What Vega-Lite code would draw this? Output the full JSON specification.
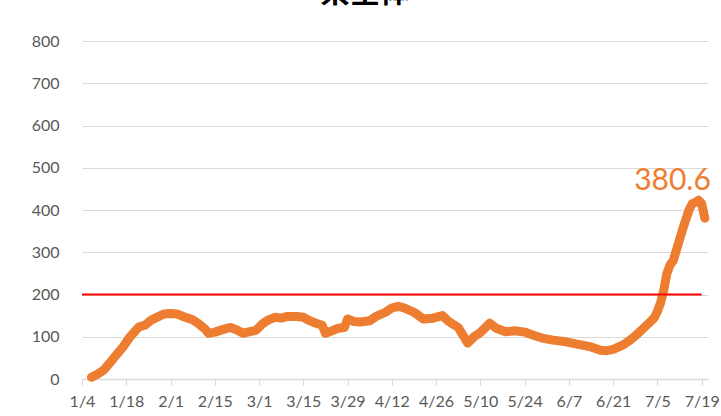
{
  "$schema": "https://vega.github.io/schema/vega-lite/v6.json",
  "width": 626,
  "height": 338,
  "autosize": {"type": "none"},
  "padding": {"left": 82, "top": 41, "right": 13, "bottom": 37},
  "background": "white",
  "config": {"view": {"stroke": null}, "font": "Lato"},
  "title": {
    "text": "県全体",
    "font": "Noto Sans CJK JP",
    "fontSize": 30,
    "fontWeight": "bold",
    "color": "#000000",
    "anchor": "middle",
    "baseline": "alphabetic",
    "offset": 1,
    "dx": -30
  },
  "datasets": {
    "series": [
      {"date": "2021-01-07", "value": 4},
      {"date": "2021-01-09", "value": 12},
      {"date": "2021-01-11", "value": 22},
      {"date": "2021-01-13", "value": 40},
      {"date": "2021-01-15", "value": 58},
      {"date": "2021-01-17", "value": 76},
      {"date": "2021-01-19", "value": 98},
      {"date": "2021-01-21", "value": 115},
      {"date": "2021-01-22", "value": 123},
      {"date": "2021-01-24", "value": 128},
      {"date": "2021-01-26", "value": 140},
      {"date": "2021-01-28", "value": 147},
      {"date": "2021-01-30", "value": 154},
      {"date": "2021-02-01", "value": 155},
      {"date": "2021-02-03", "value": 154},
      {"date": "2021-02-05", "value": 148},
      {"date": "2021-02-08", "value": 140},
      {"date": "2021-02-10", "value": 130},
      {"date": "2021-02-12", "value": 118},
      {"date": "2021-02-13", "value": 108},
      {"date": "2021-02-15", "value": 111},
      {"date": "2021-02-18", "value": 118},
      {"date": "2021-02-20", "value": 122},
      {"date": "2021-02-22", "value": 116},
      {"date": "2021-02-24", "value": 108},
      {"date": "2021-02-26", "value": 112},
      {"date": "2021-02-28", "value": 115},
      {"date": "2021-03-02", "value": 130},
      {"date": "2021-03-04", "value": 140},
      {"date": "2021-03-06", "value": 146},
      {"date": "2021-03-08", "value": 144},
      {"date": "2021-03-10", "value": 148},
      {"date": "2021-03-13", "value": 148},
      {"date": "2021-03-15", "value": 146},
      {"date": "2021-03-17", "value": 138},
      {"date": "2021-03-19", "value": 132},
      {"date": "2021-03-21", "value": 127},
      {"date": "2021-03-22", "value": 108},
      {"date": "2021-03-24", "value": 114},
      {"date": "2021-03-26", "value": 120},
      {"date": "2021-03-28", "value": 122},
      {"date": "2021-03-29", "value": 142},
      {"date": "2021-03-31", "value": 136},
      {"date": "2021-04-02", "value": 135},
      {"date": "2021-04-05", "value": 138},
      {"date": "2021-04-07", "value": 148},
      {"date": "2021-04-10", "value": 158},
      {"date": "2021-04-12", "value": 168},
      {"date": "2021-04-14", "value": 172},
      {"date": "2021-04-16", "value": 168},
      {"date": "2021-04-19", "value": 158},
      {"date": "2021-04-22", "value": 142},
      {"date": "2021-04-25", "value": 144},
      {"date": "2021-04-28", "value": 150},
      {"date": "2021-04-30", "value": 136},
      {"date": "2021-05-03", "value": 122},
      {"date": "2021-05-06", "value": 85},
      {"date": "2021-05-08", "value": 100},
      {"date": "2021-05-10", "value": 110},
      {"date": "2021-05-13", "value": 132},
      {"date": "2021-05-15", "value": 120},
      {"date": "2021-05-18", "value": 112},
      {"date": "2021-05-21", "value": 114},
      {"date": "2021-05-24", "value": 111},
      {"date": "2021-05-27", "value": 103},
      {"date": "2021-05-30", "value": 96},
      {"date": "2021-06-02", "value": 92},
      {"date": "2021-06-06", "value": 88},
      {"date": "2021-06-10", "value": 82},
      {"date": "2021-06-14", "value": 76},
      {"date": "2021-06-17", "value": 68},
      {"date": "2021-06-19", "value": 67},
      {"date": "2021-06-21", "value": 70},
      {"date": "2021-06-24", "value": 80},
      {"date": "2021-06-26", "value": 90},
      {"date": "2021-06-28", "value": 102},
      {"date": "2021-06-30", "value": 116},
      {"date": "2021-07-02", "value": 130},
      {"date": "2021-07-04", "value": 145},
      {"date": "2021-07-05", "value": 160},
      {"date": "2021-07-06", "value": 180},
      {"date": "2021-07-07", "value": 210},
      {"date": "2021-07-08", "value": 250},
      {"date": "2021-07-09", "value": 270},
      {"date": "2021-07-10", "value": 280},
      {"date": "2021-07-11", "value": 305},
      {"date": "2021-07-12", "value": 330},
      {"date": "2021-07-13", "value": 355},
      {"date": "2021-07-14", "value": 378},
      {"date": "2021-07-15", "value": 400},
      {"date": "2021-07-16", "value": 415},
      {"date": "2021-07-17", "value": 418},
      {"date": "2021-07-18", "value": 423},
      {"date": "2021-07-19", "value": 415},
      {"date": "2021-07-20", "value": 380.6}
    ],
    "threshold": [
      {"start": "2021-01-04", "end": "2021-07-19", "value": 200}
    ],
    "label": [
      {"date": "2021-07-20", "value": 380.6, "text": "380.6"}
    ]
  },
  "layer": [
    {
      "data": {"name": "series"},
      "mark": {"type": "line", "color": "#ED7D31", "strokeWidth": 9, "strokeCap": "round", "strokeJoin": "round", "clip": false},
      "encoding": {
        "x": {
          "field": "date",
          "type": "temporal",
          "scale": {
            "type": "utc",
            "domain": [
              {"year": 2021, "month": 1, "date": 4, "utc": true},
              {"year": 2021, "month": 7, "date": 21, "utc": true}
            ]
          },
          "axis": {
            "title": null,
            "values": [
              {"year": 2021, "month": 1, "date": 4, "utc": true},
              {"year": 2021, "month": 1, "date": 18, "utc": true},
              {"year": 2021, "month": 2, "date": 1, "utc": true},
              {"year": 2021, "month": 2, "date": 15, "utc": true},
              {"year": 2021, "month": 3, "date": 1, "utc": true},
              {"year": 2021, "month": 3, "date": 15, "utc": true},
              {"year": 2021, "month": 3, "date": 29, "utc": true},
              {"year": 2021, "month": 4, "date": 12, "utc": true},
              {"year": 2021, "month": 4, "date": 26, "utc": true},
              {"year": 2021, "month": 5, "date": 10, "utc": true},
              {"year": 2021, "month": 5, "date": 24, "utc": true},
              {"year": 2021, "month": 6, "date": 7, "utc": true},
              {"year": 2021, "month": 6, "date": 21, "utc": true},
              {"year": 2021, "month": 7, "date": 5, "utc": true},
              {"year": 2021, "month": 7, "date": 19, "utc": true}
            ],
            "format": "%-m/%-d",
            "grid": false,
            "domainColor": "#d9d9d9",
            "domainWidth": 1.5,
            "tickColor": "#d9d9d9",
            "tickSize": 6,
            "tickWidth": 1,
            "labelFont": "Lato",
            "labelFontSize": 16,
            "labelColor": "#595959",
            "labelPadding": 8,
            "labelOverlap": false,
            "labelFlush": false
          }
        },
        "y": {
          "field": "value",
          "type": "quantitative",
          "scale": {"domain": [0, 800], "nice": false},
          "axis": {
            "title": null,
            "values": [0, 100, 200, 300, 400, 500, 600, 700, 800],
            "domain": false,
            "ticks": false,
            "gridColor": "#d9d9d9",
            "gridWidth": 1,
            "labelFont": "Lato",
            "labelFontSize": 16,
            "labelColor": "#595959",
            "labelPadding": 23
          }
        }
      }
    },
    {
      "data": {"name": "threshold"},
      "mark": {"type": "rule", "color": "#FF0000", "strokeWidth": 2},
      "encoding": {
        "x": {"field": "start", "type": "temporal"},
        "x2": {"field": "end"},
        "y": {"field": "value", "type": "quantitative"}
      }
    },
    {
      "data": {"name": "label"},
      "mark": {"type": "text", "color": "#ED7D31", "font": "Lato", "fontSize": 30, "align": "right", "baseline": "alphabetic", "dx": 6, "dy": -28},
      "encoding": {
        "x": {"field": "date", "type": "temporal"},
        "y": {"field": "value", "type": "quantitative"},
        "text": {"field": "text"}
      }
    }
  ]
}
